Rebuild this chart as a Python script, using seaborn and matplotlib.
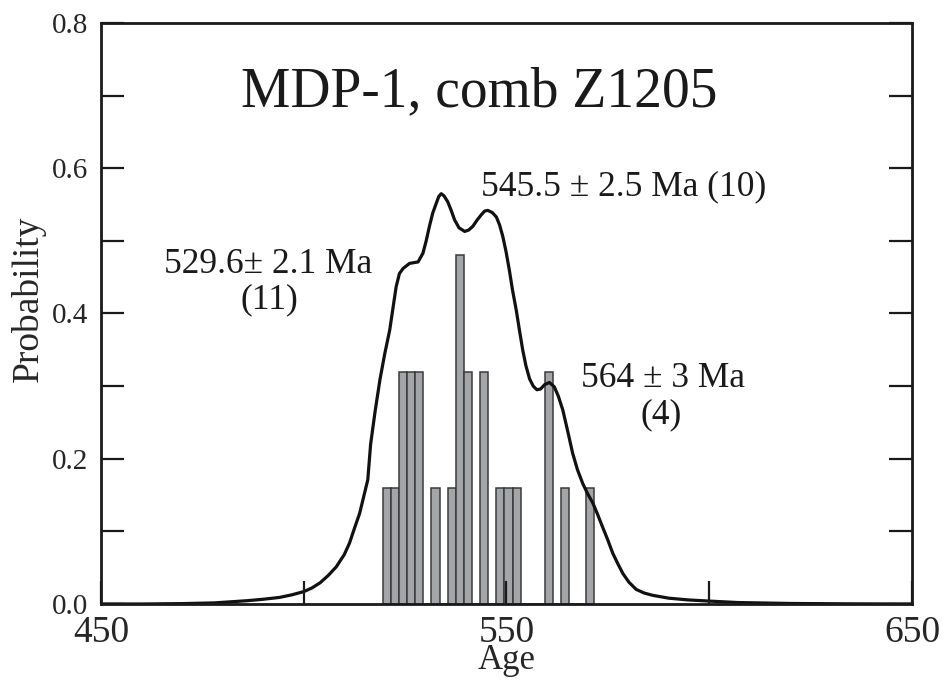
import matplotlib
matplotlib.use("Agg")
import matplotlib.pyplot as plt
import seaborn as sns
import pandas as pd

# ---- data ----
bin_centers = [520.5, 522.5, 524.5, 526.5, 528.5, 532.5, 536.5, 538.5, 540.5,
               544.5, 548.5, 550.5, 552.5, 560.5, 564.5, 570.5]
bin_heights = [0.16, 0.16, 0.32, 0.32, 0.32, 0.16, 0.16, 0.48, 0.32,
               0.32, 0.16, 0.16, 0.16, 0.32, 0.16, 0.16]

curve_age = [450, 460, 470, 478, 482, 486, 490, 494, 497, 500, 502, 504, 506,
             508, 510, 511.3, 512.5, 513.8, 514.8, 515.8, 516.5, 517.6, 518.8,
             520.0, 521.2, 522.8, 523.6, 524.5, 526.1, 528.2, 529.4, 530.2,
             531.0, 531.8, 532.7, 533.3, 533.9, 534.6, 535.5, 536.3, 537.2,
             538.3, 539.7, 540.7, 541.7, 542.8, 543.8, 544.6, 545.4, 546.5,
             547.5, 548.3, 549.1, 549.9, 550.7, 551.5, 552.4, 553.2, 554.0,
             554.8, 555.7, 556.6, 557.5, 558.4, 559.4, 560.6, 561.8, 562.8,
             563.9, 565.1, 566.3, 567.5, 568.8, 570.0, 571.3, 572.5, 573.7,
             575.0, 576.2, 577.5, 578.7, 580.2, 582.0, 584.0, 586.0, 590.0,
             595.0, 600.0, 607.0, 620.0, 635.0, 650.0]
curve_prob = [0.0, 0.0, 0.0005, 0.0015, 0.003, 0.0045, 0.0065, 0.009, 0.0125,
              0.017, 0.022, 0.029, 0.039, 0.051, 0.068, 0.084, 0.104, 0.125,
              0.148, 0.171, 0.22, 0.265, 0.309, 0.345, 0.377, 0.437, 0.455,
              0.462, 0.469, 0.471, 0.483, 0.50, 0.52, 0.538, 0.552, 0.561,
              0.565, 0.562, 0.554, 0.543, 0.529, 0.518, 0.513, 0.515, 0.52,
              0.529, 0.536, 0.541, 0.542, 0.539, 0.533, 0.522, 0.506, 0.485,
              0.46, 0.432, 0.405, 0.377, 0.35, 0.328, 0.31, 0.300, 0.295,
              0.296, 0.302, 0.305, 0.299, 0.286, 0.267, 0.238, 0.208, 0.185,
              0.166, 0.152, 0.139, 0.123, 0.106, 0.088, 0.07, 0.055, 0.042,
              0.03, 0.02, 0.015, 0.012, 0.008, 0.0055, 0.004, 0.002, 0.0007,
              0.0002, 0.0]

title_text = "MDP-1, comb Z1205"
annotations = [
    ("545.5 ± 2.5 Ma (10)", 578.9, 0.574),
    ("529.6± 2.1 Ma", 491.3, 0.467),
    ("(11)", 491.6, 0.419),
    ("564 ± 3 Ma", 588.5, 0.311),
    ("(4)", 588.2, 0.260),
]
x_major = [450, 550, 650]
x_minor = [500, 600]
y_major = [0.0, 0.2, 0.4, 0.6, 0.8]
y_minor = [0.1, 0.3, 0.5, 0.7]

# ---- style ----
sns.set_style("ticks")
plt.rcParams["font.family"] = ["Liberation Serif", "DejaVu Serif"]

fig = plt.figure(figsize=(9.48, 6.81), dpi=100)
ax = fig.add_axes([0.1065, 0.1131, 0.962 - 0.1065, 0.9662 - 0.1131])

hist_df = pd.DataFrame({"age": bin_centers, "w": bin_heights})
sns.histplot(data=hist_df, x="age", weights="w", binwidth=2,
             binrange=(519.5, 571.5), stat="count", ax=ax,
             color="#a4a5a9", edgecolor="#3a3a3a", linewidth=1.1,
             alpha=1.0, zorder=1)

curve_df = pd.DataFrame({"age": curve_age, "prob": curve_prob})
sns.lineplot(data=curve_df, x="age", y="prob", ax=ax, color="#111111",
             linewidth=2.3, sort=True, zorder=3)
for ln in ax.lines:
    ln.set_solid_joinstyle("round")
    ln.set_solid_capstyle("round")

ax.set_xlim(450, 650)
ax.set_ylim(0, 0.8)

ax.set_xticks(x_major)
ax.set_xticklabels([str(v) for v in x_major], fontsize=27)
ax.set_xticks(x_minor, minor=True)
ax.set_yticks(y_major)
ax.set_yticklabels([f"{v:.1f}" for v in y_major], fontsize=21)
ax.set_yticks(y_minor, minor=True)

ax.tick_params(axis="both", which="both", direction="in", length=16.5,
               width=1.6, color="#1a1a1a")
ax.tick_params(axis="y", which="both", right=True, left=True)
ax.tick_params(axis="x", which="both", top=False, bottom=True, pad=8)
ax.tick_params(axis="y", which="major", pad=9)
ax.xaxis.set_zorder(4)

for sp in ax.spines.values():
    sp.set_visible(True)
    sp.set_linewidth(2.0)
    sp.set_color("#1a1a1a")
    sp.set_zorder(5)

ax.set_xlabel("Age", fontsize=25, labelpad=-4)
ax.set_ylabel("Probability", fontsize=27)
ax.yaxis.set_label_coords(-0.068, 0.525)

ax.text(543.3, 0.704, title_text, fontsize=40, ha="center", va="center",
        color="#1a1a1a")
for txt, xx, yy in annotations:
    ax.text(xx, yy, txt, fontsize=25.5, ha="center", va="center",
            color="#1a1a1a")

fig.savefig("out.png", dpi=100)
